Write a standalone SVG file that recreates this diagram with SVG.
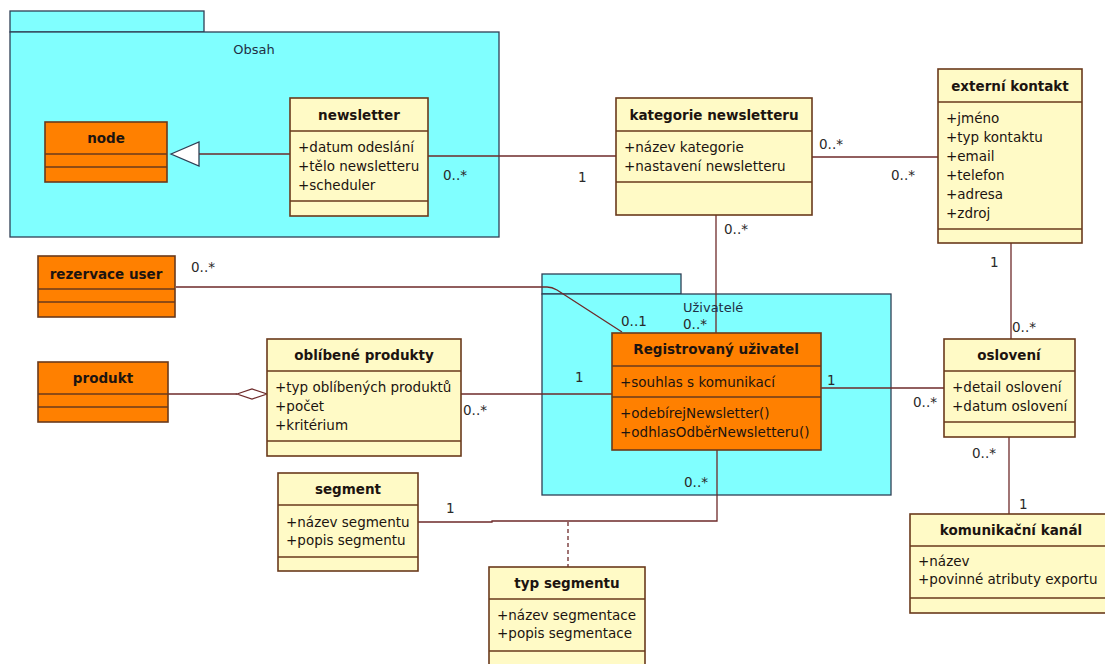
<svg xmlns="http://www.w3.org/2000/svg" width="1105" height="664" viewBox="0 0 1105 664">
<style>
text{font-family:"DejaVu Sans","Liberation Sans",sans-serif;fill:#1c1410}
.t{font-size:13.5px;font-weight:bold;text-anchor:middle}
.a{font-size:13.5px}
.l{font-size:13.5px;fill:#2a2a2a}
.pk{fill:#80ffff;stroke:#2f3f55;stroke-width:1.3}
.pt{font-size:13px;fill:#1f2f45}
.c{fill:#fffac6;stroke:#6a3a1c;stroke-width:1.6}
.o{fill:#ff8000;stroke:#6a3a1c;stroke-width:1.6}
.s{stroke:#6a3a1c;stroke-width:1.6;fill:none}
.cn{stroke:#6e2a2a;stroke-width:1.3;fill:none}
</style>
<rect width="1105" height="664" fill="#ffffff"/>

<g id="pkg-obsah">
<rect class="pk" x="10" y="11" width="194" height="21"/>
<rect class="pk" x="10" y="32" width="489" height="205"/>
<text class="pt" x="254" y="54" text-anchor="middle">Obsah</text>
</g>

<g id="pkg-uzivatele">
<rect class="pk" x="542" y="274" width="139" height="20"/>
<rect class="pk" x="542" y="294" width="349" height="201"/>
</g>

<g id="connectors">
<path class="cn" d="M199 154 L290 154"/>
<path d="M171 154 L199 142 L199 166 Z" fill="#ffffff" stroke="#2f3f55" stroke-width="1.3"/>
<path class="cn" d="M428 156 L616 156"/>
<path class="cn" d="M812 157 L938 157"/>
<path class="cn" d="M716 215 L716 333"/>
<path class="cn" d="M1011 243 L1011 339"/>
<path class="cn" d="M176 287 L547 287 Q552 287 557 290 L622 332" stroke-width="1.1"/>
<path class="cn" d="M167 394 L237 394"/>
<path d="M237 394 L252 389 L267 394 L252 399 Z" fill="#ffffff" stroke="#6e2a2a" stroke-width="1.2"/>
<path class="cn" d="M461 394 L612 394"/>
<path class="cn" d="M821 388 L944 388"/>
<path class="cn" d="M1009 437 L1009 514"/>
<path class="cn" d="M418 522 L492 522 L492 521 L717 521 L717 450"/>
<path class="cn" d="M568 522 L568 567" stroke-dasharray="4,3"/>
</g>

<g id="labels">
<text class="l" x="443" y="180">0..*</text>
<text class="l" x="578" y="182">1</text>
<text class="l" x="819" y="149">0..*</text>
<text class="l" x="891" y="180">0..*</text>
<text class="l" x="724" y="234">0..*</text>
<text class="l" x="990" y="267">1</text>
<text class="l" x="1012" y="332">0..*</text>
<text class="l" x="191" y="272">0..*</text>
<text class="l" x="621" y="326">0..1</text>
<text class="l" x="683" y="329">0..*</text>
<text class="l" x="575" y="382">1</text>
<text class="l" x="463" y="415">0..*</text>
<text class="l" x="827" y="385">1</text>
<text class="l" x="913" y="407">0..*</text>
<text class="l" x="972" y="458">0..*</text>
<text class="l" x="1019" y="509">1</text>
<text class="l" x="446" y="513">1</text>
<text class="l" x="684" y="487">0..*</text>
</g>

<text class="pt" x="683" y="312">Uživatelé</text>

<g id="node">
<rect class="o" x="45" y="122" width="122" height="60"/>
<path class="s" d="M45 154 H167 M45 167 H167"/>
<text class="t" x="106" y="143">node</text>
</g>

<g id="newsletter">
<rect class="c" x="290" y="98" width="138" height="118"/>
<path class="s" d="M290 131 H428 M290 201 H428"/>
<text class="t" x="359" y="120">newsletter</text>
<text class="a" x="298" y="152">+datum odeslání</text>
<text class="a" x="298" y="171">+tělo newsletteru</text>
<text class="a" x="298" y="190">+scheduler</text>
</g>

<g id="kategorie">
<rect class="c" x="616" y="98" width="196" height="117"/>
<path class="s" d="M616 131 H812 M616 182 H812"/>
<text class="t" x="714" y="120">kategorie newsletteru</text>
<text class="a" x="624" y="152">+název kategorie</text>
<text class="a" x="624" y="171">+nastavení newsletteru</text>
</g>

<g id="externi">
<rect class="c" x="938" y="69" width="144" height="174"/>
<path class="s" d="M938 102 H1082 M938 229 H1082"/>
<text class="t" x="1010" y="91">externí kontakt</text>
<text class="a" x="946" y="123">+jméno</text>
<text class="a" x="946" y="142">+typ kontaktu</text>
<text class="a" x="946" y="161">+email</text>
<text class="a" x="946" y="180">+telefon</text>
<text class="a" x="946" y="199">+adresa</text>
<text class="a" x="946" y="218">+zdroj</text>
</g>

<g id="rezervace">
<rect class="o" x="38" y="256" width="137" height="61"/>
<path class="s" d="M38 289 H175 M38 302 H175"/>
<text class="t" x="106" y="279">rezervace user</text>
</g>

<g id="produkt">
<rect class="o" x="38" y="362" width="130" height="60"/>
<path class="s" d="M38 394 H168 M38 407 H168"/>
<text class="t" x="103" y="383">produkt</text>
</g>

<g id="oblibene">
<rect class="c" x="267" y="339" width="194" height="117"/>
<path class="s" d="M267 371 H461 M267 441 H461"/>
<text class="t" x="364" y="360">oblíbené produkty</text>
<text class="a" x="275" y="392">+typ oblíbených produktů</text>
<text class="a" x="275" y="411">+počet</text>
<text class="a" x="275" y="430">+kritérium</text>
</g>

<g id="registrovany">
<rect class="o" x="612" y="333" width="209" height="117"/>
<path class="s" d="M612 366 H821 M612 397 H821"/>
<text class="t" x="716" y="354">Registrovaný uživatel</text>
<text class="a" x="620" y="387" fill="#3a1a0a">+souhlas s komunikací</text>
<text class="a" x="620" y="418" fill="#3a1a0a">+odebírejNewsletter()</text>
<text class="a" x="620" y="437" fill="#3a1a0a">+odhlasOdběrNewsletteru()</text>
</g>

<g id="osloveni">
<rect class="c" x="944" y="339" width="131" height="98"/>
<path class="s" d="M944 371 H1075 M944 422 H1075"/>
<text class="t" x="1009" y="360">oslovení</text>
<text class="a" x="952" y="392">+detail oslovení</text>
<text class="a" x="952" y="411">+datum oslovení</text>
</g>

<g id="segment">
<rect class="c" x="278" y="473" width="140" height="98"/>
<path class="s" d="M278 505 H418 M278 557 H418"/>
<text class="t" x="348" y="494">segment</text>
<text class="a" x="286" y="527">+název segmentu</text>
<text class="a" x="286" y="545">+popis segmentu</text>
</g>

<g id="typ-segmentu">
<rect class="c" x="489" y="567" width="156" height="110"/>
<path class="s" d="M489 599 H645 M489 651 H645"/>
<text class="t" x="567" y="588">typ segmentu</text>
<text class="a" x="497" y="620">+název segmentace</text>
<text class="a" x="497" y="638">+popis segmentace</text>
</g>

<g id="komunikacni">
<rect class="c" x="910" y="514" width="205" height="99"/>
<path class="s" d="M910 546 H1115 M910 598 H1115"/>
<text class="t" x="1011" y="535">komunikační kanál</text>
<text class="a" x="918" y="566">+název</text>
<text class="a" x="918" y="584">+povinné atributy exportu</text>
</g>
</svg>
